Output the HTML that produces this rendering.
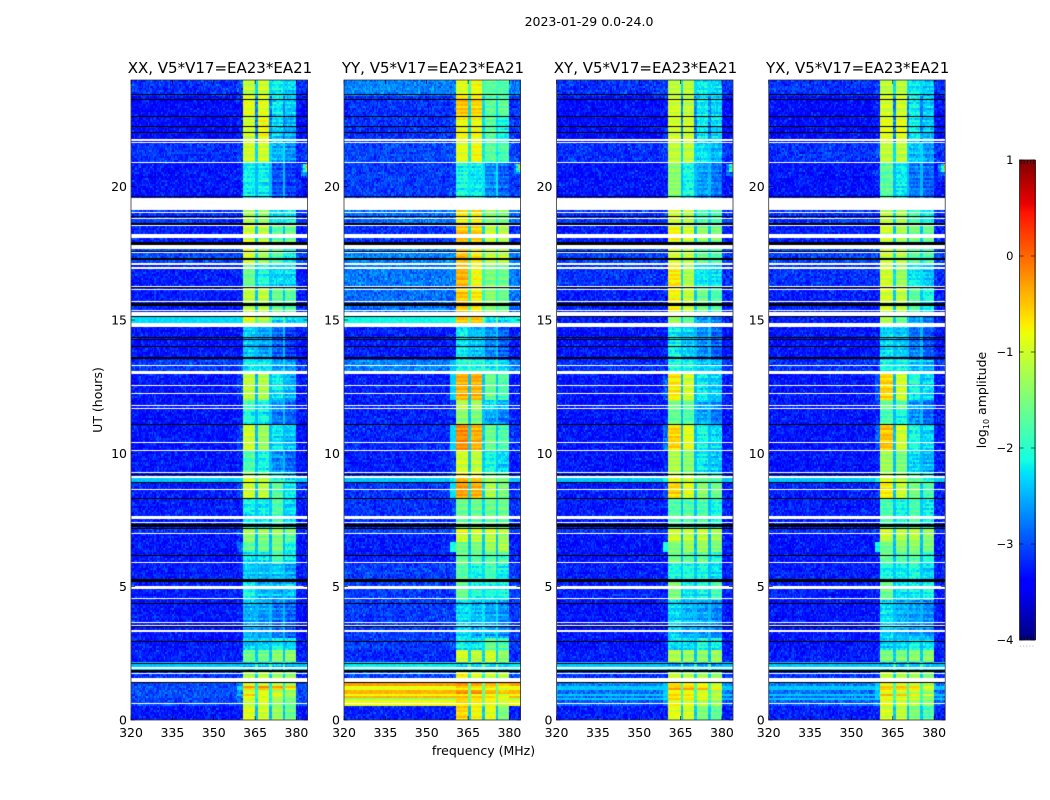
<!DOCTYPE html>
<html lang="en">
<head>
<meta charset="utf-8">
<title>2023-01-29 0.0-24.0</title>
<style>
html,body{margin:0;padding:0;background:#fff;}
#chart{position:relative;width:1050px;height:800px;overflow:hidden;background:#fff;}
canvas{position:absolute;display:block;}
svg{position:absolute;left:0;top:0;}
text{font-family:"DejaVu Sans","Liberation Sans",sans-serif;fill:#000;}
</style>
</head>
<body>
<div id="chart">
<svg id="overlay" width="1050" height="800" viewBox="0 0 1050 800"></svg>
</div>
<script>
// ---------- Axis data ----------
const xTicks = [320, 335, 350, 365, 380];
const yTicks = [0, 5, 10, 15, 20];
const cbarTicks = [1, 0, -1, -2, -3, -4];
const panelNames = ['XX', 'YY', 'XY', 'YX'];
const titles = ['XX, V5*V17=EA23*EA21', 'YY, V5*V17=EA23*EA21', 'XY, V5*V17=EA23*EA21', 'YX, V5*V17=EA23*EA21'];

// ---------- Heatmap data: UT hours of each observing segment (lower edge) ----------
const segmentUT = [0,.49,.56,.75,.81,.90,1.01,1.12,1.24,1.39,1.9,2.14,2.62,3.1,4.5,5.2,5.87,6.3,6.7,7.0,7.2,8.3,8.93,9.08,9.3,10.1,11.1,11.65,12.0,13.0,13.5,14.75,15.15,16.2,17.1,17.85,18.6,19.6,20.9,21.7,22.65,23.4];

// log10 amplitude per segment: [background, skirt, band1, band2, band3, band4]
const levelsXX = [[-3.05,-3,-.9,-1,-1.3,-1.6],[-2.9,-2.7,-1,-1,-1.3,-1.5],[-2.8,-2.6,-1.1,-1,-1.4,-1.6],[-2.8,-2.6,-.9,-.7,-1.1,-1.4],[-2.75,-2.5,-.9,-1,-1.2,-1.5],[-2.75,-2.4,-.5,-.9,-.8,-1.2],[-2.75,-2.5,-1,-.9,-1.2,-1.4],[-2.75,-2.3,-.4,-.3,-.4,-.6],[-2.8,-2.5,-1,-1.1,-1.1,-1.3],[-2.9,-2.9,-1.2,-1.1,-1.3,-1.4],[-2.4,-2.4,-2.3,-2.3,-2.3,-2.3],[-3,-3,-1.6,-1.6,-1.4,-1.4],[-3.05,-3,-2.1,-2.1,-1.9,-2.1],[-3.05,-3,-2.3,-2.4,-2.6,-2.7],[-3,-3,-1.9,-2.3,-2.3,-2.2],[-3,-3,-2.2,-2.3,-2.2,-2.4],[-3.05,-3,-2,-2,-1.8,-2],[-3.05,-2.6,-1.7,-1.6,-1.5,-1.9],[-3.05,-3,-1.4,-1.5,-1.5,-1.7],[-2.9,-2.8,-1.2,-1.2,-1.2,-1.4],[-3,-3,-2,-2,-1.8,-2.1],[-3,-2.8,-1,-1.1,-1.7,-2],[-2.4,-2.3,-1,-1.2,-1.9,-2.2],[-3,-3,-1.3,-1.4,-1.9,-2.2],[-3.05,-3,-1.8,-1.9,-2.5,-2.7],[-3.05,-2.8,-1,-1.3,-2,-2.2],[-3.05,-3,-1.9,-2,-2.6,-2.7],[-3.05,-3,-1.8,-1.9,-2.5,-2.7],[-3.05,-2.9,-1.1,-1.2,-2,-2.3],[-2.85,-2.8,-2,-2,-2.3,-2.4],[-3.05,-3,-2.2,-2.4,-2.7,-2.9],[-2.3,-2.3,-.9,-1.2,-2.1,-2.1],[-3,-3,-1.1,-1.1,-1.6,-1.7],[-3,-3,-1.6,-1.9,-2.1,-2.1],[-2.8,-2.8,-.9,-1.2,-1.7,-1.9],[-3,-3,-1,-1.1,-1.7,-1.6],[-2.9,-2.9,-1.2,-1.3,-2,-1.9],[-3.05,-3,-2,-2,-2.8,-2.9],[-2.9,-2.8,-1,-1,-2.3,-2.5],[-3.1,-3,-1,-.8,-2.1,-2.3],[-3.1,-3,-.9,-.9,-2,-2.2],[-2.9,-2.8,-1.1,-1,-2,-2.1]];
const levelsYY = [[-3,-3,-.6,-.8,-.9,-1.5],[-2.5,-2.5,-.7,-.8,-.9,-1.2],[-.8,-.8,-.6,-.7,-.8,-1],[-1.3,-1.3,-.7,-.8,-.9,-1.1],[-.4,-.4,-.3,-.4,-.5,-.7],[-.8,-.8,-.6,-.7,-.7,-.9],[-.4,-.4,-.3,-.3,-.5,-.6],[-.85,-.85,-.6,-.7,-.7,-.9],[-.3,-.3,-.2,-.3,-.4,-.5],[-2.8,-2.8,-.7,-.9,-1,-1.1],[-2.2,-2.2,-2.1,-2.1,-2.1,-2.1],[-2.95,-2.9,-1,-1.1,-1,-1.4],[-2.85,-2.8,-2,-2,-1.6,-1.8],[-2.85,-2.85,-2.1,-2.3,-2.4,-2.5],[-2.85,-2.85,-1.6,-1.9,-1.9,-1.9],[-2.85,-2.85,-1.7,-1.9,-1.8,-2],[-3,-2.9,-1.6,-1.7,-1.7,-1.8],[-3,-2.1,-1.6,-1.5,-1.3,-1.2],[-3,-2.9,-1,-1.1,-1.1,-1.3],[-2.8,-2.6,-.8,-.9,-.9,-1.1],[-2.9,-2.85,-1.6,-1.6,-1.6,-1.6],[-2.9,-2.3,-.3,-.4,-1.2,-1.5],[-2.4,-2.2,-.4,-.5,-1.3,-1.5],[-2.9,-2.6,-.6,-.7,-1.4,-1.6],[-3,-2.8,-1,-1.1,-1.9,-2.1],[-2.95,-2.3,-.2,-.4,-1.6,-1.8],[-3,-2.9,-1.4,-1.5,-2.4,-2.6],[-3,-2.8,-1.2,-1.3,-2.1,-2.3],[-3,-2.35,-.4,-.4,-1.6,-1.8],[-2.5,-2.4,-1.9,-1.9,-2,-2.1],[-3,-3,-2,-2.2,-2.5,-2.7],[-2.15,-2.1,-.5,-.5,-2,-2.1],[-2.6,-2.6,-.5,-.7,-1.4,-1.6],[-2.55,-2.5,-.4,-.8,-1.5,-1.6],[-2.5,-2.5,-.5,-.7,-1.1,-1.1],[-2.9,-2.85,-.5,-.6,-1.1,-1.2],[-2.6,-2.6,-.7,-.7,-1.4,-1.5],[-2.85,-2.8,-1.9,-2,-2.5,-2.7],[-2.8,-2.7,-.9,-.8,-1.7,-1.8],[-2.9,-2.85,-.8,-.8,-1.7,-1.9],[-2.9,-2.85,-.5,-.6,-1.7,-1.7],[-2.5,-2.5,-.9,-.8,-1.7,-1.8]];
const levelsXY = [[-3,-3,-.9,-1,-1.5,-1.7],[-2.9,-2.6,-.9,-1,-1.4,-1.6],[-2.7,-2.5,-.8,-.9,-1.1,-1.3],[-2.4,-2.3,-.7,-.8,-.9,-1.2],[-2.6,-2.4,-.8,-.9,-1,-1.3],[-2.4,-2.3,-.4,-.5,-.7,-.9],[-2.6,-2.4,-.8,-.9,-1,-1.3],[-2.4,-2.3,-.4,-.4,-.5,-.8],[-2.5,-2.4,-.7,-.8,-.9,-1.1],[-2.9,-2.9,-1.1,-1.2,-1.3,-1.4],[-2.4,-2.4,-2.3,-2.3,-2.3,-2.3],[-3,-3,-1.2,-1.3,-1.4,-1.3],[-3.05,-3,-2.1,-2.1,-1.9,-2],[-3.05,-3,-2.1,-2.3,-2.4,-2.5],[-3,-3,-1.5,-2,-1.9,-1.8],[-3,-3,-1.9,-1.9,-1.9,-2.1],[-3.05,-3,-1.6,-1.7,-1.7,-1.9],[-3.05,-2.1,-1.5,-1.3,-1.3,-1.5],[-3.05,-3,-1,-1.1,-1.1,-1.3],[-2.9,-2.8,-1,-1,-1,-1.2],[-3,-3,-1.8,-1.8,-1.8,-1.9],[-3,-2.7,-.6,-.9,-1.4,-1.6],[-2.4,-2.2,-.8,-1,-1.6,-1.8],[-3,-2.9,-1,-1.2,-1.7,-1.9],[-3.05,-3,-1.2,-1.4,-2,-2.2],[-3.05,-2.6,-.6,-.9,-1.9,-2.1],[-3.05,-3,-1.7,-1.8,-2.4,-2.6],[-3.05,-3,-1.5,-1.6,-2.3,-2.5],[-3.05,-2.7,-.7,-1,-2,-2.2],[-2.9,-2.9,-1.9,-1.9,-2.2,-2.3],[-3.05,-3,-2,-2.2,-2.5,-2.7],[-3,-3,-1.3,-1.7,-2.4,-2.6],[-3,-3,-.8,-1.1,-1.6,-1.8],[-2.9,-2.9,-.7,-1.2,-2,-2.1],[-2.8,-2.8,-1,-1.1,-1.7,-1.8],[-3,-3,-.8,-1,-1.4,-1.5],[-2.9,-2.9,-1,-1.1,-1.8,-1.8],[-3.05,-3,-1.4,-1.9,-2.4,-2.6],[-2.9,-2.8,-1.1,-1.1,-2.1,-2.3],[-3.1,-3,-1,-1,-2,-2.1],[-3.1,-3,-1,-1.1,-2,-2.1],[-2.9,-2.8,-1.1,-1.1,-2,-2.1]];
const levelsYX = [[-3,-3,-1,-1.1,-1.5,-1.8],[-2.9,-2.6,-1,-1.1,-1.5,-1.7],[-2.7,-2.5,-.9,-1,-1.2,-1.4],[-2.4,-2.3,-.8,-.9,-1,-1.3],[-2.6,-2.4,-.9,-1,-1.1,-1.4],[-2.4,-2.3,-.5,-.6,-.8,-1],[-2.6,-2.4,-.9,-1,-1.1,-1.4],[-2.4,-2.3,-.5,-.5,-.6,-.9],[-2.5,-2.4,-.8,-.9,-1,-1.2],[-2.9,-2.9,-1.1,-1.2,-1.3,-1.5],[-2.4,-2.4,-2.3,-2.3,-2.3,-2.3],[-3,-3,-1.5,-1.5,-1.4,-1.4],[-3.05,-3,-2.1,-2.1,-1.9,-2],[-3.05,-3,-2.1,-2.3,-2.4,-2.5],[-3,-3,-1.6,-2,-2,-1.9],[-3,-3,-1.9,-2,-1.9,-2.1],[-3.05,-3,-1.7,-1.8,-1.7,-1.9],[-3.05,-2.2,-1.6,-1.4,-1.4,-1.5],[-3.05,-3,-1.1,-1.2,-1.2,-1.4],[-2.9,-2.8,-1,-1.1,-1.1,-1.3],[-3,-3,-1.8,-1.9,-1.8,-2],[-3,-2.8,-.7,-1,-1.5,-1.8],[-2.4,-2.2,-.9,-1.1,-1.7,-1.9],[-3,-2.9,-1.1,-1.3,-1.8,-2],[-3.05,-3,-1.3,-1.5,-2.1,-2.3],[-3.05,-2.7,-.5,-1,-1.9,-2.1],[-3.05,-3,-1.8,-1.9,-2.5,-2.7],[-3.05,-3,-1.6,-1.7,-2.4,-2.6],[-3.05,-2.7,-.6,-1,-1.9,-2.1],[-2.9,-2.9,-1.9,-1.9,-2.2,-2.3],[-3.05,-3,-2.1,-2.2,-2.6,-2.8],[-3,-3,-1.2,-1.6,-2.4,-2.6],[-3,-3,-1,-1.1,-1.7,-1.9],[-2.9,-2.9,-1,-1.3,-2,-2.2],[-2.8,-2.8,-1,-1.1,-1.7,-1.8],[-3,-3,-1,-1.2,-1.5,-1.6],[-2.9,-2.9,-1.1,-1.2,-1.8,-1.9],[-3.05,-3,-1.7,-2,-2.6,-2.7],[-2.9,-2.8,-1.1,-1.1,-2.2,-2.4],[-3.1,-3,-.9,-.9,-2,-2.2],[-3.1,-3,-1,-1,-2,-2.2],[-2.9,-2.8,-1.1,-1.1,-2,-2.2]];

// Flagged time ranges [lowUT, highUT]: blank (white) and zero-amplitude (black)
const blankRangesUT = [[21.73,21.79],[21.66,21.69],[20.89,20.93],[19.13,19.58],[19.0,19.05],[18.81,18.84],[18.54,18.58],[18.08,18.24],[17.66,17.81],[17.51,17.55],[17.08,17.12],[16.93,16.97],[16.24,16.28],[16.13,16.16],[15.66,15.71],[15.34,15.38],[15.15,15.31],[14.75,14.9],[13.28,13.31],[12.99,13.1],[12.53,12.56],[12.23,12.26],[11.78,11.81],[11.65,11.71],[10.39,10.43],[10.09,10.13],[9.26,9.3],[9.08,9.14],[8.63,8.66],[7.55,7.65],[7.39,7.43],[6.98,7.01],[5.87,5.93],[4.91,5.04],[4.52,4.56],[3.64,3.68],[3.54,3.57],[3.3,3.38],[1.9,2.0],[1.73,1.76],[1.43,1.56],[.6,.64]];
const zeroRangesUT = [[23.44,23.48],[23.25,23.29],[22.61,22.65],[22.24,22.28],[22.01,22.05],[19.61,19.65],[18.86,18.9],[18.58,18.62],[17.81,17.93],[17.55,17.59],[17.25,17.33],[16.2,16.24],[15.53,15.62],[15.11,15.15],[14.34,14.38],[14.25,14.29],[14.01,14.04],[13.59,13.63],[13.54,13.58],[11.06,11.1],[9.19,9.23],[8.89,8.93],[8.29,8.33],[7.25,7.35],[7.16,7.2],[6.15,6.19],[5.19,5.29],[4.35,4.39],[3.49,3.53],[2.94,2.98],[2.1,2.14],[1.8,1.88],[1.39,1.43]];

// Band edges in MHz: [low, high]
const skirtMHz = [358.5, 360.7];
const bandsMHz = [[360.7, 365], [365.8, 370.2], [370.8, 375.1], [376, 380]];
const gapOffset = 0.6;
const quietShift = -0.25;
const dimBandShift = -0.2;
// Interference spike near the band edge: [lowUT, highUT, lowMHz, log10 amplitude]
const spikes = [[20.65,20.85,383.3,-0.4],[20.55,20.88,382.5,-1.9],[20.4,20.88,381.3,-2.6]];

// Fixed, hand-estimated speckle tables (scatter of the cells about their segment level)
const speckleA = [.2,-.3,.5,-.1,-.5,.3,.1,-.4,.6,-.2,0,.4,-.6,.2,-.1,.5,-.3,.1,-.5,.3,.7,-.2,-.4,.1,.4,-.6,.2,-.1,.3,-.3,.5,0,-.4,.2,-.2,.6,-.5];
const speckleB = [-.2,.4,.1,-.5,.3,-.1,.6,-.3,.2,-.4,.5,0,-.2,.3,-.6,.1,.4,-.1,-.3,.5,.2,-.5,.1,.3,-.2,.6,-.4,0,.2,-.3,.4,-.1,.3,-.5,.1,.5,-.2,-.4,.2,0,-.1];
const stripes = [.15,-.1,.05,-.2,.2,0,-.15,.1,-.05,.2,-.2,.1,0,.15,-.1,-.2,.2,.05,-.15,.1,-.05,.15,-.2];
const cbarMinorFractions = [.1, .3, .5, .7, .9];

// ---------- Layout ----------
const plotTop = 80, plotBottom = 720, plotWidth = 176.5;
const plotLefts = [131, 344, 556.5, 768.7];
const utMax = 24, fMin = 320, fMax = 384;
const nChannels = 128, nRows = 320;
const cbar = {left: 1019.5, right: 1035, top: 160, bottom: 640};
const allLevels = [levelsXX, levelsYY, levelsXY, levelsYX];

// ---------- Scales ----------
function xScale(p, f) { return plotLefts[p] + (f - fMin) / (fMax - fMin) * plotWidth; }
function yScale(ut) { return plotBottom - ut / utMax * (plotBottom - plotTop); }
function cbarScale(v) { return cbar.bottom - (v + 4) / 5 * (cbar.bottom - cbar.top); }
function interp(pts, t) {
  for (let k = 1; k < pts.length; k++) {
    if (t <= pts[k][0]) {
      const a = pts[k - 1], b = pts[k];
      return a[1] + (b[1] - a[1]) * (t - a[0]) / (b[0] - a[0]);
    }
  }
  return pts[pts.length - 1][1];
}
const jetR = [[0,0],[.35,0],[.66,1],[.89,1],[1,.5]];
const jetG = [[0,0],[.125,0],[.375,1],[.64,1],[.91,0],[1,0]];
const jetB = [[0,.5],[.11,1],[.34,1],[.65,0],[1,0]];
function jet(v) {
  const t = Math.max(0, Math.min(1, (v + 4) / 5));
  return 'rgb(' + Math.round(interp(jetR, t) * 255) + ',' + Math.round(interp(jetG, t) * 255) + ',' + Math.round(interp(jetB, t) * 255) + ')';
}
function levelAt(levels, ut) {
  let s = 0;
  for (let k = 0; k < segmentUT.length; k++) { if (ut >= segmentUT[k]) s = k; }
  return levels[s];
}
function channelLevel(row, f, ut) {
  for (const sp of spikes) {
    if (ut >= sp[0] && ut <= sp[1] && f >= sp[2]) return {v: sp[3], band: true};
  }
  for (let b = 0; b < bandsMHz.length; b++) {
    if (f >= bandsMHz[b][0] && f < bandsMHz[b][1]) return {v: row[2 + b], band: true};
  }
  if (f >= skirtMHz[0] && f < skirtMHz[1]) return {v: row[1], band: false};
  if (f >= bandsMHz[0][0] && f < bandsMHz[3][1]) {
    return {v: Math.min(row[0] + gapOffset, -1.6), band: false};
  }
  return {v: row[0], band: false};
}

// ---------- Draw heatmaps ----------
const chart = document.getElementById('chart');
panelNames.forEach(function (name, p) {
  const cv = document.createElement('canvas');
  
  
  const left = Math.round(xScale(p, fMin));
  const right = Math.round(xScale(p, fMax));
  cv.width = right - left;
  cv.height = plotBottom - plotTop;
  cv.style.left = left + 'px';
  cv.style.top = plotTop + 'px';
  chart.insertBefore(cv, document.getElementById('overlay'));
  const ctx = cv.getContext('2d');
  ctx.fillStyle = '#fff';
  ctx.fillRect(0, 0, cv.width, cv.height);
  const dt = utMax / nRows, df = (fMax - fMin) / nChannels;
  for (let j = 0; j < nRows; j++) {
    const ut = (j + 0.5) * dt;
    const row = levelAt(allLevels[p], ut);
    const y1 = Math.round(yScale(j * dt)) - plotTop;
    const y0 = Math.round(yScale((j + 1) * dt)) - plotTop;
    const stripe = stripes[(j + p * 3) % stripes.length];
    for (let i = 0; i < nChannels; i++) {
      const f = fMin + (i + 0.5) * df;
      const lv = channelLevel(row, f, ut);
      const a = speckleA[(i * 17 + j * 5 + (i * j) % 11 + p) % speckleA.length];
      const b = speckleB[(i * 3 + j * 11 + (i * j) % 13 + p * 7) % speckleB.length];
      let v;
      if (lv.band) {
        v = lv.v + stripe * 0.8 + (a + b) * (lv.v < -1.6 ? 0.25 : 0.08) + (lv.v <= -1.85 ? dimBandShift : 0);
      } else if (lv.v < -2.45) {
        v = lv.v + quietShift + (a + b) * 0.34;
      } else {
        v = lv.v + (a + b) * 0.1;
      }
      const x0 = Math.round(xScale(p, fMin + i * df)) - left;
      const x1 = Math.round(xScale(p, fMin + (i + 1) * df)) - left;
      ctx.fillStyle = jet(v);
      ctx.fillRect(x0, y0, Math.max(1, x1 - x0), y1 - y0);
    }
  }
  // flagged rows use their own edges so thin lines stay crisp
  ctx.fillStyle = '#fff';
  blankRangesUT.forEach(function (r) {
    const y0 = Math.round(yScale(r[1])) - plotTop;
    const y1 = Math.round(yScale(r[0])) - plotTop;
    ctx.fillRect(0, y0, cv.width, Math.max(1, y1 - y0));
  });
  ctx.fillStyle = '#000';
  zeroRangesUT.forEach(function (r) {
    const y0 = Math.round(yScale(r[1])) - plotTop;
    const y1 = Math.round(yScale(r[0])) - plotTop;
    ctx.fillRect(0, y0, cv.width, Math.max(1, y1 - y0));
  });
});

// ---------- Colorbar ----------
const cbarCanvas = document.createElement('canvas');


cbarCanvas.width = Math.round(cbar.right - cbar.left);
cbarCanvas.height = cbar.bottom - cbar.top;
cbarCanvas.style.left = Math.round(cbar.left) + 'px';
cbarCanvas.style.top = cbar.top + 'px';
chart.insertBefore(cbarCanvas, document.getElementById('overlay'));
const cbCtx = cbarCanvas.getContext('2d');
for (let py = 0; py < cbarCanvas.height; py++) {
  const val = 1 - (py + 0.5) / cbarCanvas.height * 5;
  cbCtx.fillStyle = jet(val);
  cbCtx.fillRect(0, py, cbarCanvas.width, 1);
}

// ---------- SVG annotation helpers ----------
const svg = document.getElementById('overlay');
const NS = 'http://www.w3.org/2000/svg';
function makeText(str, x, y, size, anchor) {
  const t = document.createElementNS(NS, 'text');
  t.textContent = str;
  t.setAttribute('x', x);
  t.setAttribute('y', y);
  t.setAttribute('font-size', size);
  t.setAttribute('text-anchor', anchor);
  svg.appendChild(t);
  return t;
}
function makeLine(x1, y1, x2, y2, width) {
  const l = document.createElementNS(NS, 'line');
  l.setAttribute('x1', x1);
  l.setAttribute('y1', y1);
  l.setAttribute('x2', x2);
  l.setAttribute('y2', y2);
  l.setAttribute('stroke', '#000');
  l.setAttribute('stroke-width', width);
  svg.appendChild(l);
  return l;
}

const tickFont = 12.5;
panelNames.forEach(function (name, p) {
  const left = xScale(p, fMin), right = xScale(p, fMax);
  const frame = document.createElementNS(NS, 'rect');
  
  
  frame.setAttribute('x', left);
  frame.setAttribute('y', plotTop);
  frame.setAttribute('width', plotWidth);
  frame.setAttribute('height', plotBottom - plotTop);
  frame.setAttribute('fill', 'none');
  frame.setAttribute('stroke', '#333');
  frame.setAttribute('stroke-width', '0.8');
  svg.appendChild(frame);

  const title = makeText(titles[p], (left + right) / 2 + 0.7, 73, 15, 'middle');
  
  

  xTicks.forEach(function (v) {
    const x = xScale(p, v);
    const tickB = makeLine(x, plotBottom, x, plotBottom - 4, 0.6);
    
    
    const tickT = makeLine(x, plotTop, x, plotTop + 4, 0.6);
    
    
    const label = makeText(String(v), x, 737, tickFont, 'middle');
    
    
  });
  yTicks.forEach(function (v) {
    const y = yScale(v);
    const tickL = makeLine(left, y, left + 4, y, 0.6);
    
    
    const tickR = makeLine(right, y, right - 4, y, 0.6);
    
    
    const label = makeText(String(v), left - 4, y + 4.5, tickFont, 'end');
    
    
  });
});

const figTitle = makeText('2023-01-29 0.0-24.0', 589, 26, 12.5, 'middle');



const xLabel = makeText('frequency (MHz)', 483.5, 755, 12.5, 'middle');



const yLabel = makeText('UT (hours)', 0, 0, 12.5, 'middle');
yLabel.setAttribute('transform', 'translate(102,400) rotate(-90)');



// Colorbar frame, ticks and labels
const cbarFrame = document.createElementNS(NS, 'rect');


cbarFrame.setAttribute('x', cbar.left);
cbarFrame.setAttribute('y', cbar.top);
cbarFrame.setAttribute('width', cbar.right - cbar.left);
cbarFrame.setAttribute('height', cbar.bottom - cbar.top);
cbarFrame.setAttribute('fill', 'none');
cbarFrame.setAttribute('stroke', '#222');
cbarFrame.setAttribute('stroke-width', '0.9');
svg.appendChild(cbarFrame);

cbarTicks.forEach(function (v) {
  const y = cbarScale(v);
  const tl = makeLine(cbar.left, y, cbar.left + 4, y, 0.6);
  
  
  const tr = makeLine(cbar.right, y, cbar.right - 4, y, 0.6);
  
  
  const txt = (v < 0 ? '\u2212' + Math.abs(v) : String(v));
  const label = makeText(txt, 1013.5, y + 4, 11.5, 'end');
  
  
});

cbarMinorFractions.forEach(function (fr) {
  const x = cbar.left + fr * (cbar.right - cbar.left);
  const mt = makeLine(x, cbar.top, x, cbar.top + 4, 0.6);
  
  
  const mb = makeLine(x, cbar.bottom, x, cbar.bottom - 4, 0.6);
  
  
  const dot = makeLine(x - 1, cbar.bottom + 6, x, cbar.bottom + 6, 0.7);
  dot.setAttribute('stroke', '#888');
  
  
});

const cbarLabel = makeText('', 0, 0, 12.5, 'middle');
cbarLabel.setAttribute('transform', 'translate(986,400) rotate(-90)');


const part1 = document.createElementNS(NS, 'tspan');
part1.textContent = 'log';
cbarLabel.appendChild(part1);
const part2 = document.createElementNS(NS, 'tspan');
part2.textContent = '10';
part2.setAttribute('font-size', '8');
part2.setAttribute('dy', '3');
cbarLabel.appendChild(part2);
const part3 = document.createElementNS(NS, 'tspan');
part3.textContent = ' amplitude';
part3.setAttribute('dy', '-3');
cbarLabel.appendChild(part3);
</script>
</body>
</html>
